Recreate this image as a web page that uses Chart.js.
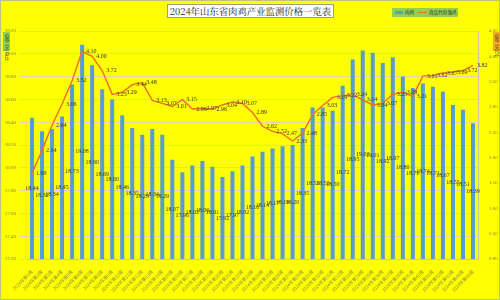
<!DOCTYPE html>
<html><head><meta charset="utf-8">
<script src="https://cdn.jsdelivr.net/npm/chart.js@4/dist/chart.umd.min.js"></script>
<style>
html,body{margin:0;padding:0;}
body{width:500px;height:300px;overflow:hidden;background:#ffff00;}
#wrap{position:relative;width:498px;height:298px;border:1px solid #b5c77a;background:#ffff00;}
canvas{position:absolute;left:-1px;top:-1px;}
.title{position:absolute;left:166px;top:3px;width:165px;height:12px;background:#fff;border:1px solid #9a9a9a;font:9.4px "Noto Serif CJK SC","Noto Sans CJK SC",sans-serif;line-height:12px;text-align:center;color:#222;white-space:nowrap;}
.legend{position:absolute;left:391px;top:7px;width:66px;height:9px;background:#92d050;font:4.6px "Noto Sans CJK SC",sans-serif;line-height:9px;color:#333;white-space:nowrap;}
.legend .sw{position:absolute;left:3px;top:3px;width:8px;height:3px;background:#5b9bd5;}
.legend .ln{position:absolute;left:26px;top:4px;width:9px;height:1px;background:#f26b2a;}
.legend .t1{position:absolute;left:13px;top:0;}
.legend .t2{position:absolute;left:37px;top:0;}
.ytl{position:absolute;left:2px;top:31px;width:7px;height:19px;background:#92d050;}
.ytr{position:absolute;left:492px;top:31px;width:7px;height:19px;background:#f5a623;}
.vt{position:absolute;writing-mode:vertical-rl;font:4.2px "Noto Sans CJK SC",sans-serif;color:#333;left:1px;top:1px;white-space:nowrap;}
</style></head>
<body><div id="wrap">
<canvas id="c" width="500" height="300"></canvas>
<div class="title">2024年山东省肉鸡产业监测价格一览表</div>
<div class="legend"><span class="sw"></span><span class="t1">肉鸡</span><span class="ln"></span><span class="t2">商品代肉雏鸡</span></div>
<div class="ytl"><span class="vt">价格（元/公斤）</span></div>
<div class="ytr"><span class="vt">价格（元/只）</span></div>
</div>
<script>
const categories = [
"2024年第1周","2024年第2周","2024年第3周","2024年第4周","2024年第5周","2024年第6周","2024年第7周","2024年第8周","2024年第9周","2024年第10周",
"2024年第11周","2024年第12周","2024年第13周","2024年第14周","2024年第15周","2024年第16周","2024年第17周","2024年第18周","2024年第19周","2024年第20周",
"2024年第21周","2024年第22周","2024年第23周","2024年第24周","2024年第25周","2024年第26周","2024年第27周","2024年第28周","2024年第29周","2024年第30周",
"2024年第31周","2024年第32周","2024年第33周","2024年第34周","2024年第35周","2024年第36周","2024年第37周","2024年第38周","2024年第39周","2024年第40周",
"2024年第41周","2024年第42周","2024年第43周","2024年第44周","2024年第45周"];
const broilerPrice = [18.44,18.32,18.34,18.45,18.73,19.08,18.90,18.69,18.60,18.46,
18.35,18.29,18.34,18.29,18.07,17.96,18.02,18.06,18.01,17.92,
17.97,18.02,18.10,18.14,18.17,18.19,18.20,18.35,18.53,18.53,
18.50,18.72,18.95,19.03,19.01,18.92,18.97,18.80,18.70,18.74,
18.71,18.67,18.55,18.51,18.39];
const chickPrice = [1.69,2.14,2.64,3.06,3.52,4.10,4.00,3.72,3.25,3.29,
3.44,3.48,3.13,3.07,3.01,3.15,2.96,2.97,2.96,3.04,
3.10,3.07,2.89,2.62,2.52,2.47,2.33,2.48,2.85,3.03,
3.19,3.22,3.24,3.14,3.04,3.07,3.25,3.29,3.21,3.61,
3.62,3.67,3.69,3.72,3.82];
const leftTicks = {min:17.2,max:19.2,step:0.2};
const rightTicks = {min:0,max:4.5,step:0.5};

const labelPlugin = {
  id:'dl',
  afterDraw(chart){
    const ctx = chart.ctx;
    ctx.save();
    ctx.font = '6px "Liberation Serif", serif';
    ctx.fillStyle = '#333333';
    chart.data.datasets.forEach((ds,di)=>{
      const meta = chart.getDatasetMeta(di);
      meta.data.forEach((el,i)=>{
        const txt = Number(ds.data[i]).toFixed(2);
        if (meta.type==='bar'){
          const base = chart.scales.y.bottom;
          ctx.textAlign='center'; ctx.textBaseline='middle';
          ctx.fillText(txt, el.x, (el.y+base)/2);
        } else {
          ctx.textAlign='left'; ctx.textBaseline='middle';
          ctx.fillText(txt, el.x+4, el.y);
        }
      });
    });
    ctx.restore();
  }
};

new Chart(document.getElementById('c'), {
  type:'bar',
  data:{labels:categories, datasets:[
    {type:'line', label:'商品代肉雏鸡', data:chickPrice, yAxisID:'y1', borderColor:'#f26b2a', borderWidth:1.4, pointRadius:0, tension:0, order:0},
    {type:'bar', label:'肉鸡', data:broilerPrice, yAxisID:'y', backgroundColor:'#5b9bd5', categoryPercentage:1, barPercentage:0.4, order:1}
  ]},
  options:{
    responsive:false, animation:false,
    layout:{padding:{left:0,right:0,top:31,bottom:0}},
    plugins:{legend:{display:false}, tooltip:{enabled:false}},
    scales:{
      x:{grid:{display:false}, border:{color:'#c8c8a0'},
         ticks:{autoSkip:false, minRotation:45, maxRotation:45, padding:2, color:'#8c8c3c', font:{size:4.5, family:'"Noto Sans CJK SC"'}},
         afterFit(s){s.height=41; s.paddingLeft=0; s.paddingRight=0;}},
      y:{position:'left', min:leftTicks.min, max:leftTicks.max,
         grid:{color:'#d9d9b0'}, border:{display:false},
         ticks:{stepSize:leftTicks.step, padding:3, color:'#7a7a50', font:{size:5, family:'"Liberation Serif"'}, callback:v=>Number(v).toFixed(2)},
         afterFit(s){s.width=27;}},
      y1:{position:'right', min:rightTicks.min, max:rightTicks.max,
         grid:{display:false}, border:{color:'#c8c8a0'},
         ticks:{stepSize:rightTicks.step, padding:3, color:'#7a7a50', font:{size:5, family:'"Liberation Serif"'}, callback:v=>Number(v).toFixed(2)},
         afterFit(s){s.width=22;}}
    }
  },
  plugins:[labelPlugin]
});
</script>
</body></html>
